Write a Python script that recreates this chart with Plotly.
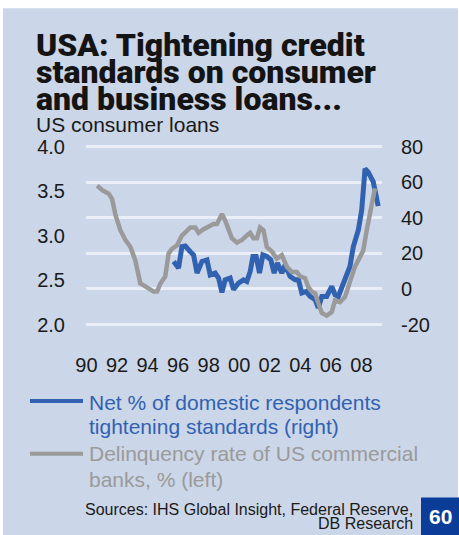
import plotly.graph_objects as go

# ---------------- data ----------------
x_tick_vals = [1990, 1992, 1994, 1996, 1998, 2000, 2002, 2004, 2006, 2008]
x_tick_text = ["90", "92", "94", "96", "98", "00", "02", "04", "06", "08"]
left_tick_vals = [2.0, 2.5, 3.0, 3.5, 4.0]
left_tick_text = ["2.0", "2.5", "3.0", "3.5", "4.0"]
right_tick_vals = [-20, 0, 20, 40, 60, 80]
right_tick_text = ["-20", "0", "20", "40", "60", "80"]

# Delinquency rate of US commercial banks, % (left axis)
delinq_x = [1990.70, 1991.03, 1991.46, 1991.68, 1991.90, 1992.22, 1992.55, 1992.88,
            1993.20, 1993.53, 1993.75, 1994.07, 1994.40, 1994.62, 1994.84, 1995.16,
            1995.38, 1995.60, 1995.93, 1996.25, 1996.47, 1996.80, 1997.12, 1997.34,
            1997.67, 1997.99, 1998.32, 1998.54, 1998.87, 1999.08, 1999.30, 1999.52,
            1999.85, 2000.18, 2000.50, 2000.72, 2000.93, 2001.16, 2001.37, 2001.59,
            2001.81, 2002.14, 2002.46, 2002.79, 2003.12, 2003.44, 2003.77, 2003.99,
            2004.31, 2004.53, 2004.75, 2004.97, 2005.18, 2005.41, 2005.73, 2006.06,
            2006.27, 2006.60, 2006.93, 2007.25, 2007.58, 2007.91, 2008.12, 2008.35,
            2008.67, 2008.89]
delinq_y = [3.56, 3.51, 3.47, 3.41, 3.23, 3.06, 2.95, 2.87,
            2.72, 2.46, 2.44, 2.41, 2.37, 2.37, 2.46, 2.54,
            2.80, 2.85, 2.89, 3.00, 3.04, 3.09, 3.09, 3.03,
            3.07, 3.10, 3.13, 3.13, 3.24, 3.17, 3.06, 2.97,
            2.92, 2.95, 3.00, 3.03, 2.97, 2.97, 3.09, 3.06,
            2.87, 2.82, 2.74, 2.78, 2.65, 2.59, 2.59, 2.54,
            2.52, 2.42, 2.37, 2.35, 2.24, 2.13, 2.10, 2.14,
            2.27, 2.25, 2.31, 2.46, 2.65, 2.76, 2.83, 3.06,
            3.36, 3.53]

# Net % of domestic respondents tightening standards (right axis)
tight_x = [1995.71, 1996.03, 1996.25, 1996.47, 1996.80, 1997.01, 1997.24, 1997.56,
           1997.89, 1998.10, 1998.43, 1998.65, 1998.87, 1999.08, 1999.41, 1999.63,
           1999.95, 2000.28, 2000.50, 2000.72, 2000.90, 2001.11, 2001.33, 2001.55,
           2001.81, 2002.07, 2002.29, 2002.50, 2002.79, 2003.01, 2003.33, 2003.66,
           2003.88, 2004.10, 2004.38, 2004.64, 2004.97, 2005.18, 2005.41, 2005.73,
           2006.06, 2006.27, 2006.49, 2006.82, 2007.04, 2007.25, 2007.47, 2007.80,
           2008.02, 2008.24, 2008.45, 2008.78, 2009.10]
tight_y = [15.4, 11.7, 23.7, 24.1, 20.9, 19.1, 8.9, 15.4,
           16.3, 7.9, 8.9, 6.1, -2.0, 5.1, 6.1, -0.4,
           3.3, 5.1, 4.2, 9.8, 18.2, 18.2, 8.9, 19.1,
           18.2, 16.3, 8.9, 14.5, 8.9, 13.5, 7.0, 5.1,
           5.1, -2.3, -1.4, -4.2, -6.0, -10.7, -4.2, -4.2,
           1.4, -3.2, -4.2, 3.3, 7.0, 12.6, 23.7, 33.1,
           44.2, 67.5, 65.6, 60.1, 46.5]

# ---------------- styling ----------------
W, H = 459, 535
PL, PR, PT, PB = 86, 382, 144.5, 326.5
X_RANGE = [1989.97, 2009.35]
PAD_R = 0.84                      # small headroom so edge gridlines are not clipped
Y_RANGE = [-20 - PAD_R, 80 + PAD_R]
Y2_RANGE = [2 - PAD_R / 50, 4 + PAD_R / 50]
BG = "#cbd6e8"
BLUE = "#3162b1"
GREY = "#9a9a9a"
INK = "#1a1a1a"
GRID = "#e9eef7"
FONT = "Liberation Sans, Arial, sans-serif"


def fx(px):
    return (px - PL) / (PR - PL)


def fy(py):
    return (PB - py) / (PB - PT)


fig = go.Figure()
fig.add_trace(go.Scatter(x=tight_x, y=tight_y, mode="lines", yaxis="y",
                         line=dict(color=BLUE, width=5), hoverinfo="skip"))
fig.add_trace(go.Scatter(x=delinq_x, y=delinq_y, mode="lines", yaxis="y2",
                         line=dict(color=GREY, width=4.5), hoverinfo="skip"))

tickfont = dict(family=FONT, size=20, color=INK)
fig.update_layout(
    width=W, height=H, autosize=False,
    margin=dict(l=PL, r=W - PR, t=PT, b=H - PB, pad=0),
    paper_bgcolor=BG, plot_bgcolor=BG,
    showlegend=False,
    xaxis=dict(range=X_RANGE, tickvals=x_tick_vals, ticktext=x_tick_text,
               showgrid=False, zeroline=False, showline=False, ticks="",
               tickfont=tickfont, ticklabelstandoff=25, fixedrange=True),
    yaxis=dict(range=Y_RANGE, side="right", tickvals=right_tick_vals,
               ticktext=right_tick_text, showgrid=True, gridcolor=GRID,
               gridwidth=2.5, zeroline=False, showline=False, ticks="",
               tickfont=tickfont, ticklabelstandoff=18, fixedrange=True),
    yaxis2=dict(range=Y2_RANGE, side="left", overlaying="y", tickvals=left_tick_vals,
                ticktext=left_tick_text, showgrid=False, zeroline=False,
                showline=False, ticks="", tickfont=tickfont, ticklabelstandoff=20,
                fixedrange=True),
)

shapes = [
    # white page edges around the tinted panel
    dict(type="rect", xref="paper", yref="paper", x0=fx(-5), x1=fx(W + 5),
         y0=fy(7), y1=fy(-5), fillcolor="white", line=dict(width=0), layer="above"),
    dict(type="rect", xref="paper", yref="paper", x0=fx(-5), x1=fx(3),
         y0=fy(H + 5), y1=fy(-5), fillcolor="white", line=dict(width=0), layer="above"),
    dict(type="rect", xref="paper", yref="paper", x0=fx(458), x1=fx(W + 5),
         y0=fy(H + 5), y1=fy(-5), fillcolor="white", line=dict(width=0), layer="above"),
    # legend keys
    dict(type="line", xref="paper", yref="paper", x0=fx(30), x1=fx(83),
         y0=fy(402), y1=fy(402), line=dict(color=BLUE, width=4)),
    dict(type="line", xref="paper", yref="paper", x0=fx(30), x1=fx(83),
         y0=fy(455), y1=fy(455), line=dict(color=GREY, width=4)),
    # page-number box
    dict(type="rect", xref="paper", yref="paper", x0=fx(421), x1=fx(W + 5),
         y0=fy(H + 5), y1=fy(499), fillcolor="#0b3d98", line=dict(width=0), layer="above"),
]

TITLE_FONT = dict(family="Roboto, Liberation Sans, sans-serif", size=32, color="#141414", weight=900)
ann = []


def text(px, py, s, font, xanchor="left"):
    ann.append(dict(x=fx(px), y=fy(py), xref="paper", yref="paper", text=s,
                    showarrow=False, xanchor=xanchor, yanchor="middle", font=font,
                    align=xanchor))


text(34, 44, "USA: Tightening credit", TITLE_FONT)
text(34, 71, "standards on consumer", TITLE_FONT)
text(34, 98, "and business loans...", TITLE_FONT)
text(34, 124, "US consumer loans", dict(family=FONT, size=21, color=INK))

legfont_b = dict(family=FONT, size=21, color=BLUE)
legfont_g = dict(family=FONT, size=21, color=GREY)
text(87, 403, "Net % of domestic respondents", legfont_b)
text(87, 428, "tightening standards (right)", legfont_b)
text(87, 455, "Delinquency rate of US commercial", legfont_g)
text(87, 481, "banks, % (left)", legfont_g)

srcfont = dict(family=FONT, size=16, color=INK)
text(415, 511, "Sources: IHS Global Insight, Federal Reserve,", srcfont, xanchor="right")
text(415, 525, "DB Research", srcfont, xanchor="right")

ann.append(dict(x=fx(440), y=fy(518), xref="paper", yref="paper", text="60",
                showarrow=False, xanchor="center", yanchor="middle",
                font=dict(family=FONT, size=21, color="white", weight="bold")))

fig.update_layout(shapes=shapes, annotations=ann)
fig.write_html("out.html", config={"displayModeBar": False},
               post_script="document.body.style.margin='0';document.body.style.overflow='hidden';")
